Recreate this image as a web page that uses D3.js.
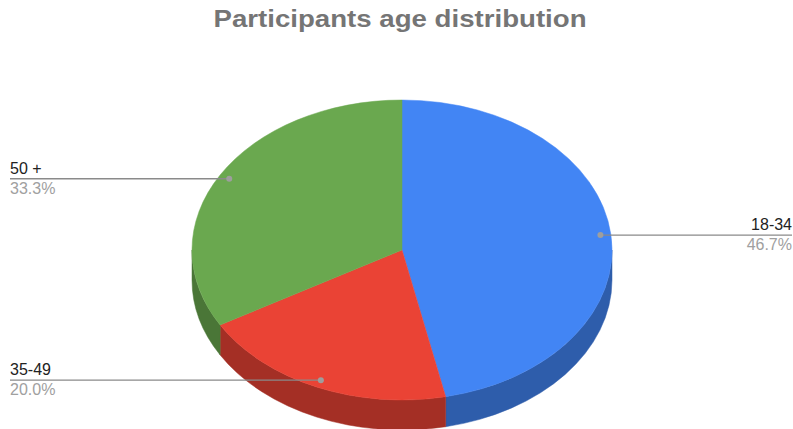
<!DOCTYPE html>
<html>
<head>
<meta charset="utf-8">
<script src="https://cdn.jsdelivr.net/npm/d3@7"></script>
<style>
  html, body { margin: 0; padding: 0; background: #fff; }
  svg { display: block; font-family: "Liberation Sans", Arial, sans-serif; }
</style>
</head>
<body>
<svg id="chart" width="793" height="429"></svg>
<script>
// Age groups and their share of participants (counts out of 15)
const categories = ["18-34", "35-49", "50 +"];
const counts = [7, 3, 5];
const colors = ["#4285f4", "#ea4335", "#6aa84f"];
const title = "Participants age distribution";

const W = 793, H = 429;
const svg = d3.select("#chart");

// Tilted pie geometry
const cx = 402, cy = 250, rx = 210, ry = 150, depth = 30;

const total = d3.sum(counts);
const data = categories.map((c, i) => ({ name: c, value: counts[i] }));
const pie = d3.pie().sort(null).value(d => d.value);
const slices = pie(data);

const fmt = d3.format(".1%");
const color = d3.scaleOrdinal().domain(categories).range(colors);
const rimColor = name => d3.color(color(name)).darker(1);

// angle measured clockwise from 12 o'clock
const pt = (a, r = 1, dy = 0) => [cx + rx * r * Math.sin(a), cy - ry * r * Math.cos(a) + dy];

function topPath(a0, a1) {
  const p0 = pt(a0), p1 = pt(a1);
  const large = (a1 - a0) > Math.PI ? 1 : 0;
  return `M${cx},${cy}L${p0[0]},${p0[1]}A${rx},${ry} 0 ${large} 1 ${p1[0]},${p1[1]}Z`;
}

function sidePath(a0, a1) {
  // only the front half (bottom of the ellipse) shows a rim
  const s = Math.max(a0, Math.PI / 2), e = Math.min(a1, 3 * Math.PI / 2);
  if (e <= s) return null;
  const p0 = pt(s), p1 = pt(e), q1 = pt(e, 1, depth), q0 = pt(s, 1, depth);
  return `M${p0[0]},${p0[1]}A${rx},${ry} 0 0 1 ${p1[0]},${p1[1]}` +
         `L${q1[0]},${q1[1]}A${rx},${ry} 0 0 0 ${q0[0]},${q0[1]}Z`;
}

// rims
svg.append("g").selectAll("path")
  .data(slices.filter(d => sidePath(d.startAngle, d.endAngle)))
  .join("path")
  .attr("d", d => sidePath(d.startAngle, d.endAngle))
  .attr("fill", d => rimColor(d.data.name))
  .attr("stroke", d => rimColor(d.data.name))
  .attr("stroke-width", 0.5);

// top faces
svg.append("g").selectAll("path")
  .data(slices)
  .join("path")
  .attr("d", d => topPath(d.startAngle, d.endAngle))
  .attr("fill", d => color(d.data.name))
  .attr("stroke", d => color(d.data.name))
  .attr("stroke-width", 0.5);

// labels with leader lines
const lab = svg.append("g");
slices.forEach(d => {
  const mid = (d.startAngle + d.endAngle) / 2;
  const [x, y] = pt(mid, 0.95);
  const right = Math.sin(mid) > 0;
  const xEdge = right ? W - 1 : 10;
  lab.append("line")
    .attr("x1", x).attr("y1", y).attr("x2", xEdge).attr("y2", y)
    .attr("stroke", "#8a8a8a").attr("stroke-width", 1.3);
  lab.append("circle")
    .attr("cx", x).attr("cy", y).attr("r", 3)
    .attr("fill", "#9e9e9e");
  lab.append("text")
    .attr("x", xEdge).attr("y", y - 5)
    .attr("text-anchor", right ? "end" : "start")
    .attr("font-size", 16).attr("fill", "#222")
    .text(d.data.name);
  lab.append("text")
    .attr("x", xEdge).attr("y", y + 15)
    .attr("text-anchor", right ? "end" : "start")
    .attr("font-size", 16).attr("fill", "#a0a0a0")
    .text(fmt(d.data.value / total));
});

// title
svg.append("text")
  .attr("x", 400).attr("y", 27)
  .attr("text-anchor", "middle")
  .attr("font-size", 24).attr("font-weight", "bold")
  .attr("textLength", 373).attr("lengthAdjust", "spacingAndGlyphs")
  .attr("fill", "#757575")
  .text(title);
</script>
</body>
</html>
